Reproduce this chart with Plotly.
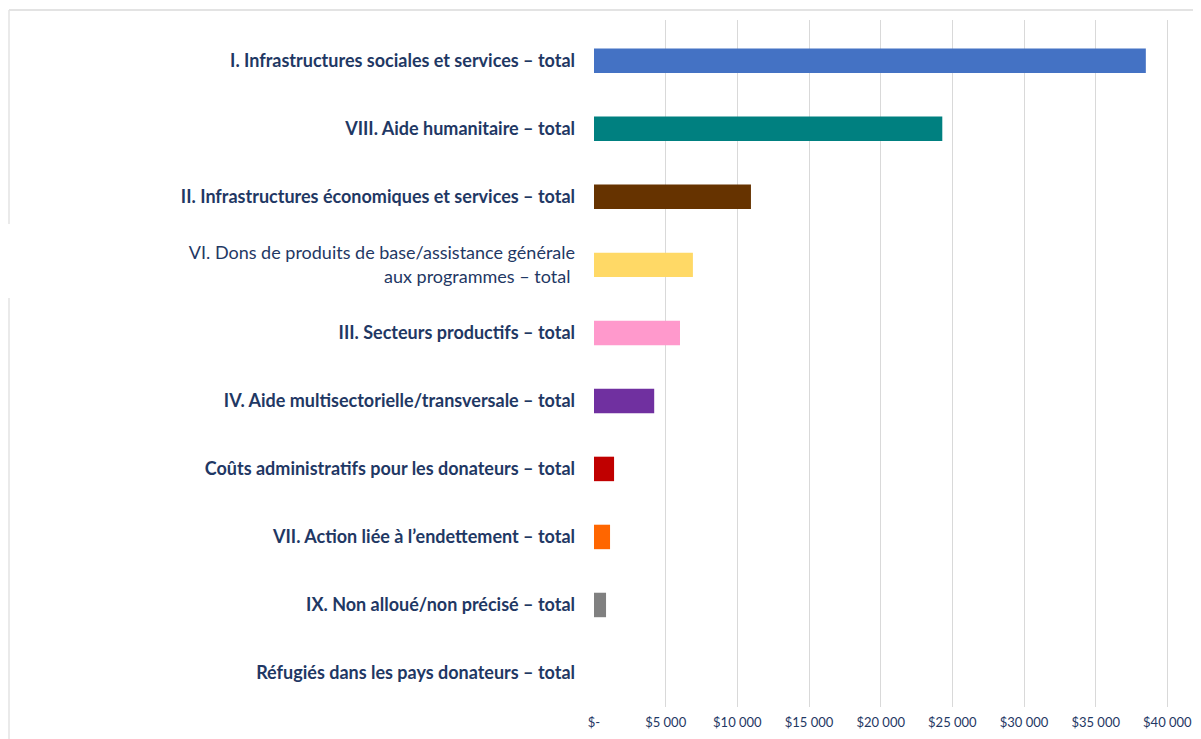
import plotly.graph_objects as go

categories = [
    "<b>I. Infrastructures sociales et services – total</b>",
    "<b>VIII. Aide humanitaire – total</b>",
    "<b>II. Infrastructures économiques et services – total</b>",
    "VI. Dons de produits de base/assistance générale<br>aux programmes – total\u00a0",
    "<b>III. Secteurs productifs – total</b>",
    "<b>IV. Aide multisectorielle/transversale – total</b>",
    "<b>Coûts administratifs pour les donateurs – total</b>",
    "<b>VII. Action liée à l’endettement – total</b>",
    "<b>IX. Non alloué/non précisé – total</b>",
    "<b>Réfugiés dans les pays donateurs – total</b>",
]
values = [38500, 24300, 10950, 6900, 6000, 4200, 1400, 1120, 840, 0]
colors = ["#4472C4", "#008080", "#663300", "#FFD966", "#FF99CC",
          "#7030A0", "#C00000", "#FF6600", "#808080", "#A5A5A5"]
tick_vals = [0, 5000, 10000, 15000, 20000, 25000, 30000, 35000, 40000]
tick_text = ["$-", "$5 000", "$10 000", "$15 000", "$20 000",
             "$25 000", "$30 000", "$35 000", "$40 000"]

ypos = list(range(len(categories)))
navy = "#1F3864"

W, H = 1193, 731
L, R, T, B = 586, 5, 12, 32
PW, PH = W - L - R, H - T - B


def px(xf):
    return (xf - L) / PW


def py(yf):
    return (H - B - yf) / PH


fig = go.Figure(go.Bar(
    x=values, y=ypos, orientation="h",
    marker=dict(color=colors, line=dict(width=0)),
    width=0.36,
    hoverinfo="x",
))

border = "#E3E3E3"
fig.update_layout(
    width=W, height=H,
    margin=dict(l=L, r=R, t=T, b=B),
    paper_bgcolor="white", plot_bgcolor="white",
    showlegend=False,
    font=dict(family="Lato, Carlito, sans-serif", color=navy),
    xaxis=dict(
        range=[0, 42000], tickvals=tick_vals, ticktext=tick_text,
        showgrid=True, gridcolor="#D9D9D9", gridwidth=1.3,
        zeroline=False, showline=False, ticks="",
        ticklabelstandoff=6,
        tickfont=dict(size=13, color=navy),
    ),
    yaxis=dict(
        range=[9.5, -0.6], tickvals=ypos, ticktext=categories,
        showgrid=False, zeroline=False, showline=False, ticks="",
        ticklabelstandoff=18,
        tickfont=dict(size=18, color=navy),
    ),
    shapes=[
        dict(type="line", xref="paper", yref="paper",
             x0=px(1), x1=1.02, y0=py(2), y1=py(2),
             line=dict(color=border, width=2)),
        dict(type="line", xref="paper", yref="paper",
             x0=px(1), x1=px(1), y0=py(2), y1=py(216),
             line=dict(color=border, width=1.5)),
        dict(type="line", xref="paper", yref="paper",
             x0=px(1), x1=px(1), y0=py(290), y1=py(H + 5),
             line=dict(color=border, width=1.5)),
    ],
)

fig.write_html("out.html")
